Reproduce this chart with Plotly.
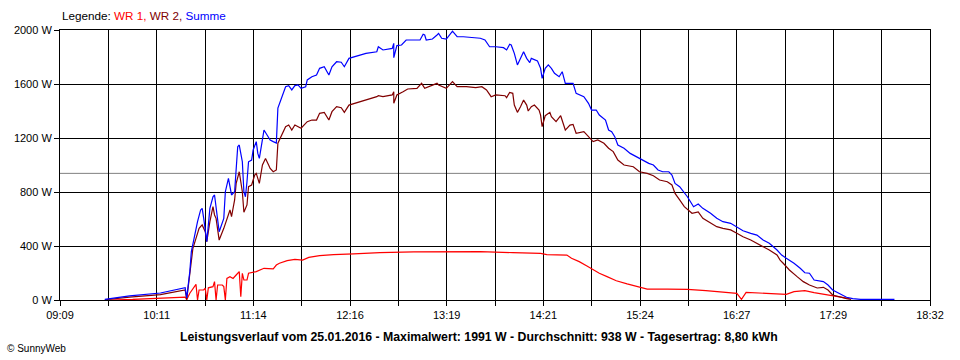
import plotly.graph_objects as go

# ---------------- data ----------------
summe_times = ["09:38","09:54","10:14","10:30","10:31","10:33","10:34","10:36","10:38","10:40","10:41","10:42","10:43","10:44","10:46","10:48","10:49","10:50","10:52","10:55","10:56","10:58","11:00","11:02","11:03","11:04","11:05","11:07","11:08","11:09","11:10","11:11","11:13","11:14","11:16","11:17","11:18","11:20","11:21","11:23","11:25","11:27","11:29","11:30","11:32","11:35","11:37","11:39","11:41","11:43","11:45","11:48","11:49","11:52","11:55","11:57","12:00","12:03","12:05","12:08","12:11","12:13","12:16","12:20","12:23","12:27","12:34","12:35","12:38","12:44","12:45","12:45","12:47","12:50","12:53","12:59","13:02","13:04","13:05","13:06","13:10","13:13","13:14","13:16","13:19","13:23","13:26","13:30","13:34","13:41","13:44","13:47","13:51","13:56","13:58","14:00","14:01","14:03","14:05","14:06","14:08","14:09","14:11","14:13","14:14","14:18","14:20","14:21","14:23","14:25","14:27","14:29","14:32","14:34","14:36","14:41","14:43","14:48","14:51","14:53","14:56","14:58","15:02","15:04","15:06","15:08","15:10","15:14","15:18","15:22","15:25","15:30","15:33","15:36","15:39","15:43","15:45","15:47","15:50","15:55","15:59","16:02","16:05","16:10","16:14","16:18","16:23","16:27","16:31","16:36","16:40","16:44","16:48","16:53","16:56","16:59","17:04","17:08","17:11","17:14","17:17","17:23","17:26","17:29","17:34","17:38","17:42","17:47","18:09"]
summe_watts = [4,30,52,91,15,210,358,481,580,667,679,605,494,432,679,765,778,679,506,605,802,901,778,802,975,1136,1148,1024,802,765,876,1024,1037,1111,1173,1086,1049,1198,1259,1222,1185,1173,1163,1422,1481,1580,1588,1556,1588,1593,1568,1580,1630,1654,1667,1716,1728,1667,1728,1765,1761,1728,1790,1802,1815,1827,1839,1876,1852,1864,1901,1795,1884,1889,1926,1926,1926,1968,1963,1926,1933,1963,1975,1939,1933,1991,1950,1950,1946,1939,1926,1876,1876,1869,1852,1894,1889,1827,1741,1765,1802,1839,1790,1758,1790,1770,1716,1642,1716,1741,1716,1679,1654,1691,1605,1605,1531,1506,1457,1407,1407,1370,1333,1259,1247,1210,1148,1124,1086,1061,1037,1012,1000,963,950,950,926,864,839,765,691,711,679,642,605,580,568,543,513,494,481,444,420,370,333,309,272,235,202,198,148,136,111,74,42,20,10,5,5]

wr2_times = ["09:38","09:54","10:14","10:30","10:31","10:34","10:35","10:37","10:39","10:41","10:43","10:44","10:46","10:48","10:49","10:50","10:52","10:55","10:57","10:59","11:00","11:02","11:03","11:05","11:07","11:08","11:10","11:11","11:13","11:15","11:16","11:18","11:20","11:22","11:24","11:25","11:27","11:29","11:30","11:32","11:35","11:37","11:39","11:41","11:43","11:45","11:49","11:52","11:55","11:57","12:00","12:03","12:05","12:08","12:11","12:13","12:16","12:20","12:23","12:27","12:34","12:35","12:38","12:44","12:45","12:45","12:47","12:51","12:54","13:00","13:03","13:05","13:08","13:13","13:14","13:19","13:23","13:26","13:32","13:38","13:42","13:45","13:48","13:51","13:57","13:58","14:00","14:02","14:03","14:05","14:07","14:09","14:11","14:12","14:14","14:16","14:19","14:20","14:21","14:23","14:26","14:27","14:30","14:33","14:36","14:39","14:41","14:43","14:48","14:51","14:54","14:57","15:01","15:04","15:07","15:10","15:14","15:20","15:24","15:29","15:33","15:37","15:42","15:45","15:47","15:50","15:53","15:58","16:02","16:05","16:10","16:14","16:18","16:23","16:27","16:31","16:36","16:40","16:44","16:48","16:53","16:55","16:57","17:01","17:06","17:10","17:14","17:19","17:23","17:26","17:29","17:34","17:38","17:41"]
wr2_watts = [2,22,40,74,5,259,383,457,531,556,506,432,580,691,630,605,444,531,593,667,617,741,864,950,802,650,704,839,852,926,938,864,1000,1049,1000,975,950,963,1161,1210,1284,1296,1259,1296,1284,1272,1321,1333,1333,1383,1390,1333,1395,1432,1424,1390,1444,1457,1469,1481,1506,1513,1506,1519,1543,1457,1519,1543,1563,1568,1605,1568,1580,1605,1593,1568,1617,1580,1580,1573,1580,1556,1506,1519,1513,1499,1538,1531,1444,1390,1432,1481,1444,1400,1432,1444,1407,1370,1284,1365,1390,1358,1321,1365,1259,1296,1301,1235,1247,1210,1173,1185,1161,1124,1099,1037,1000,987,950,938,921,889,876,852,790,741,691,642,652,605,568,543,531,519,494,469,444,420,395,370,333,296,272,222,173,136,111,89,94,74,37,20,10,5]

wr1_times = ["09:41","09:56","10:30","10:31","10:33","10:35","10:37","10:38","10:39","10:42","10:43","10:44","10:45","10:48","10:49","10:50","10:51","10:54","10:55","10:56","10:57","10:59","11:01","11:03","11:05","11:06","11:07","11:08","11:10","11:11","11:16","11:21","11:27","11:29","11:31","11:36","11:41","11:46","11:50","11:57","12:06","12:19","12:36","12:58","13:19","13:41","14:02","14:20","14:24","14:37","14:40","14:45","14:50","14:54","14:58","15:03","15:09","15:16","15:24","15:29","15:42","15:55","16:07","16:20","16:27","16:30","16:33","16:46","16:59","17:04","17:11","17:17","17:25","17:34","17:40"]
wr1_watts = [0,4,22,2,50,87,116,0,74,74,87,0,90,99,136,0,111,111,99,0,160,173,160,185,210,25,198,148,148,198,210,235,230,259,272,292,301,296,316,328,336,341,351,356,358,358,351,346,336,333,309,284,252,222,198,173,143,119,94,81,81,79,69,57,49,5,57,49,42,62,69,54,37,20,10]

average_w = 938
y_ticks = [0, 400, 800, 1200, 1600, 2000]
x_tick_labels = ["09:09", "10:11", "11:14", "12:16", "13:19", "14:21", "15:24", "16:27", "17:29", "18:32"]
x_start, x_end = "09:09", "18:32"
title_text = ("Leistungsverlauf vom 25.01.2016 - Maximalwert: 1991 W - "
              "Durchschnitt: 938 W - Tagesertrag: 8,80 kWh")


def to_min(s):
    h, m = s.split(":")
    return int(h) * 60 + int(m)


t0, t1 = to_min(x_start), to_min(x_end)
n_int = 2 * (len(x_tick_labels) - 1)
tickvals = [t0 + (t1 - t0) * k / n_int for k in range(n_int + 1)]
ticktext = [x_tick_labels[k // 2] if k % 2 == 0 else "" for k in range(n_int + 1)]

FONT = "Liberation Sans, Arial, sans-serif"

fig = go.Figure()
fig.add_trace(go.Scatter(x=[to_min(t) for t in wr1_times], y=wr1_watts, mode="lines",
                         line=dict(color="#FF0000", width=1.2), name="WR 1"))
fig.add_trace(go.Scatter(x=[to_min(t) for t in wr2_times], y=wr2_watts, mode="lines",
                         line=dict(color="#800000", width=1.2), name="WR 2"))
fig.add_trace(go.Scatter(x=[to_min(t) for t in summe_times], y=summe_watts, mode="lines",
                         line=dict(color="#0000FF", width=1.2), name="Summe"))

fig.add_shape(type="line", xref="paper", x0=0, x1=1, yref="y", y0=average_w, y1=average_w,
              line=dict(color="#808080", width=1), layer="below")

fig.update_layout(
    width=960, height=360,
    margin=dict(l=60, r=30, t=30, b=60),
    paper_bgcolor="white", plot_bgcolor="white",
    showlegend=False,
    font=dict(family=FONT, size=11, color="black"),
    xaxis=dict(range=[t0, t1], tickvals=tickvals, ticktext=ticktext,
               showgrid=True, gridcolor="black", gridwidth=1,
               showline=True, linecolor="black", linewidth=1, mirror=True,
               ticks="outside", ticklen=5, tickcolor="black", zeroline=False,
               tickfont=dict(family=FONT, size=11)),
    yaxis=dict(range=[0, 2000], tickvals=y_ticks, ticktext=[f"{v} W" for v in y_ticks],
               showgrid=True, gridcolor="black", gridwidth=1,
               showline=True, linecolor="black", linewidth=1, mirror=True,
               ticks="outside", ticklen=5, tickcolor="black", zeroline=False,
               tickfont=dict(family=FONT, size=11)),
)

fig.add_annotation(xref="paper", yref="paper", x=0, y=1.052, xanchor="left", yanchor="middle",
                   showarrow=False, font=dict(family=FONT, size=11.7, color="black"),
                   text=("Legende: <span style='color:#FF0000'>WR 1,</span> "
                         "<span style='color:#800000'>WR 2,</span> "
                         "<span style='color:#0000FF'>Summe</span>"))
fig.add_annotation(xref="paper", yref="paper", x=0.482, y=-0.137, xanchor="center", yanchor="middle",
                   showarrow=False, font=dict(family=FONT, size=12.3, color="black"),
                   text=f"<b>{title_text}</b>")
fig.add_annotation(xref="paper", yref="paper", x=-0.0632, y=-0.178, xanchor="left", yanchor="middle",
                   showarrow=False, font=dict(family=FONT, size=10, color="black"),
                   text="© SunnyWeb")

fig.write_html("out.html", config={"displayModeBar": False},
               post_script="document.body.style.margin='0px';")
